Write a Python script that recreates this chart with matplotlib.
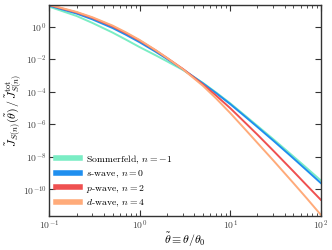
import numpy as np
import matplotlib
matplotlib.use("Agg")
import matplotlib.pyplot as plt
from matplotlib.ticker import LogLocator, NullLocator

plt.rcParams["font.family"] = "serif"
plt.rcParams["font.serif"] = ["cmr10", "DejaVu Serif"]
plt.rcParams["mathtext.fontset"] = "cm"
plt.rcParams["axes.formatter.use_mathtext"] = True

# theta / theta_0 sample points, values as log10(J/Jtot)
theta = [0.1, 0.2, 0.3, 0.5, 0.7, 1, 1.5, 2, 3, 5, 7, 10, 15, 20, 30, 50, 70, 100]
log_sommerfeld = [1.23, 0.66, 0.23, -0.36, -0.79, -1.26, -1.76, -2.13, -2.66,
                  -3.46, -4.05, -4.71, -5.52, -6.10, -6.92, -7.98, -8.69, -9.45]
log_swave = [1.29, 0.81, 0.45, -0.08, -0.49, -0.96, -1.54, -1.98, -2.62,
             -3.49, -4.09, -4.76, -5.58, -6.17, -7.01, -8.10, -8.83, -9.61]
log_pwave = [1.33, 0.88, 0.54, 0.02, -0.39, -0.86, -1.46, -1.92, -2.60,
             -3.56, -4.24, -5.01, -5.96, -6.64, -7.63, -8.90, -9.75, -10.64]
log_dwave = [1.35, 0.91, 0.58, 0.07, -0.34, -0.82, -1.44, -1.92, -2.62,
             -3.64, -4.42, -5.31, -6.38, -7.15, -8.23, -9.62, -10.55, -11.56]

labels = ["Sommerfeld, $n=-1$", "$s$-wave, $n=0$", "$p$-wave, $n=2$", "$d$-wave, $n=4$"]
colors = ["#7aedc4", "#1f8fef", "#ef5050", "#ffab7a"]
series = [log_sommerfeld, log_swave, log_pwave, log_dwave]

fig = plt.figure(figsize=(3.32, 2.5), dpi=100)
ax = fig.add_axes([0.1485, 0.136, 0.8175, 0.845])

for vals, col, lab in zip(series, colors, labels):
    ax.plot(theta, 10.0 ** np.array(vals), color=col, lw=1.4, label=lab)

ax.set_xscale("log")
ax.set_yscale("log")
ax.set_xlim(0.1, 100)
ax.set_ylim(10 ** -11.64, 10 ** 1.35)
ax.set_yticks([1e-10, 1e-8, 1e-6, 1e-4, 1e-2, 1e0])
ax.yaxis.set_minor_locator(NullLocator())
ax.xaxis.set_minor_locator(LogLocator(base=10, subs=np.arange(2, 10)))

ax.tick_params(which="both", direction="in", top=True, right=True,
               labelsize=7, color="#333333", labelcolor="#444444", pad=2)
ax.tick_params(which="major", length=4, width=0.8)
ax.tick_params(which="minor", length=2, width=0.6)
for s in ax.spines.values():
    s.set_linewidth(1.0)
    s.set_color("#333333")

ax.set_xlabel(r"$\tilde{\theta} \equiv \theta/\theta_0$", fontsize=8.5, labelpad=-1)
ax.set_ylabel(r"$\tilde{J}_{S(n)}(\tilde{\theta})\,/\,\tilde{J}^{\rm tot}_{S(n)}$",
              fontsize=8.5, labelpad=0)

leg = ax.legend(loc="lower left", frameon=False, fontsize=7, handlelength=2.5,
                handletextpad=0.6, labelspacing=0.3, borderaxespad=0.3)
for line in leg.get_lines():
    line.set_linewidth(4)

fig.savefig("out.png", dpi=100)
